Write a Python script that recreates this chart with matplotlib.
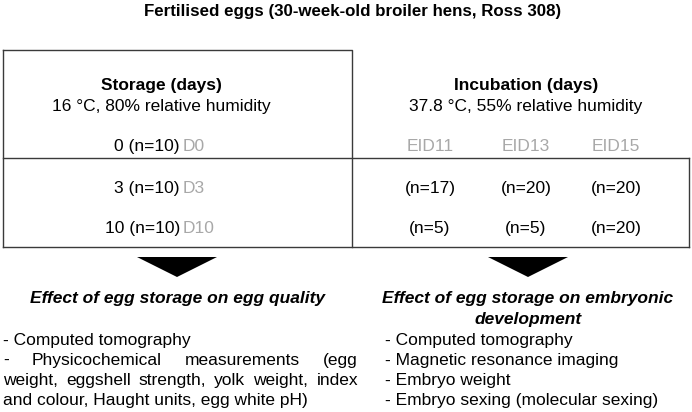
import matplotlib
matplotlib.use("Agg")
import matplotlib.pyplot as plt

plt.rcParams['font.family'] = ['Liberation Sans', 'DejaVu Sans']

# ---- data ----
title = "Fertilised eggs (30-week-old broiler hens, Ross 308)"
storage_title = "Storage (days)"
storage_cond = "16 °C, 80% relative humidity"
incub_title = "Incubation (days)"
incub_cond = "37.8 °C, 55% relative humidity"
storage_days = [0, 3, 10]
storage_n = [10, 10, 10]
storage_labels = ["D0", "D3", "D10"]
incub_labels = ["EID11", "EID13", "EID15"]
incub_n = [[17, 20, 20], [5, 5, 20]]
left_heading = "Effect of egg storage on egg quality"
left_item1 = "- Computed tomography"
left_item2_lines = ["- Physicochemical measurements (egg",
                    "weight, eggshell strength, yolk weight, index",
                    "and colour, Haught units, egg white pH)"]
right_heading = ["Effect of egg storage on embryonic", "development"]
right_items = ["- Computed tomography", "- Magnetic resonance imaging",
               "- Embryo weight", "- Embryo sexing (molecular sexing)"]

# ---- layout ----
W, H = 692, 412
fig = plt.figure(figsize=(W / 100, H / 100), dpi=100)
ax = fig.add_axes([0, 0, 1, 1])
ax.set_xlim(0, W)
ax.set_ylim(H, 0)
ax.axis('off')

LC = '#3a3a3a'
GRAY = '#a8a8a8'
FS = 12.5
lw = 1.0

xl, xm, xr = 3, 352, 689
yt, ymid, yb = 50, 158, 247
ax.plot([xl, xm, xm], [yt, yt, yb], color=LC, lw=lw)
ax.plot([xl, xl], [yt, yb], color=LC, lw=lw)
ax.plot([xl, xr], [ymid, ymid], color=LC, lw=lw)
ax.plot([xr, xr], [ymid, yb], color=LC, lw=lw)
ax.plot([xl, xr], [yb, yb], color=LC, lw=lw)

ax.text(353, 11, title, ha='center', va='center', fontsize=12.2, fontweight='bold')

lc, rc = 161, 526
ax.text(lc, 85, storage_title, ha='center', va='center', fontsize=FS, fontweight='bold')
ax.text(lc, 106, storage_cond, ha='center', va='center', fontsize=FS)
ax.text(rc, 85, incub_title, ha='center', va='center', fontsize=FS, fontweight='bold')
ax.text(rc, 106, incub_cond, ha='center', va='center', fontsize=FS)

row_y = [146, 188, 228]
for y, d, n, lab in zip(row_y, storage_days, storage_n, storage_labels):
    ax.text(180, y + 5, f"{d} (n={n})", ha='right', va='baseline', fontsize=FS)
    ax.text(183, y + 5, lab, ha='left', va='baseline', fontsize=FS, color=GRAY)

col_x = [430, 526, 616]
for x, lab in zip(col_x, incub_labels):
    ax.text(x, row_y[0] + 5, lab, ha='center', va='baseline', fontsize=FS, color=GRAY)
for y, row in zip(row_y[1:], incub_n):
    for x, n in zip(col_x, row):
        ax.text(x, y + 5, f"(n={n})", ha='center', va='baseline', fontsize=FS)

# arrows (triangles)
for cx in [177, 528]:
    ax.fill([cx - 40, cx + 40, cx], [257, 257, 277], color='black', lw=0)

# bottom text
ax.text(178, 303, left_heading, ha='center', va='baseline', fontsize=FS,
        fontweight='bold', style='italic')
ax.text(528, 303, right_heading[0], ha='center', va='baseline', fontsize=FS,
        fontweight='bold', style='italic')
ax.text(528, 324, right_heading[1], ha='center', va='baseline', fontsize=FS,
        fontweight='bold', style='italic')

for i, item in enumerate(right_items):
    ax.text(385, 345 + 20 * i, item, ha='left', va='baseline', fontsize=FS)

ax.text(3, 345, left_item1, ha='left', va='baseline', fontsize=FS)

# justified paragraph
fig.canvas.draw()
renderer = fig.canvas.get_renderer()

def word_width(w):
    t = ax.text(0, 0, w, fontsize=FS)
    bb = t.get_window_extent(renderer)
    t.remove()
    return bb.width

x0, x1 = 3, 358
y = 365
for li, line in enumerate(left_item2_lines):
    if li < len(left_item2_lines) - 1:
        ln = line.split()
        widths = [word_width(w) for w in ln]
        gap = (x1 - x0 - sum(widths)) / (len(ln) - 1)
        x = x0
        for w, ww in zip(ln, widths):
            ax.text(x, y, w, ha='left', va='baseline', fontsize=FS)
            x += ww + gap
    else:
        ax.text(x0, y, line, ha='left', va='baseline', fontsize=FS)
    y += 20

fig.savefig("out.png", dpi=100)
